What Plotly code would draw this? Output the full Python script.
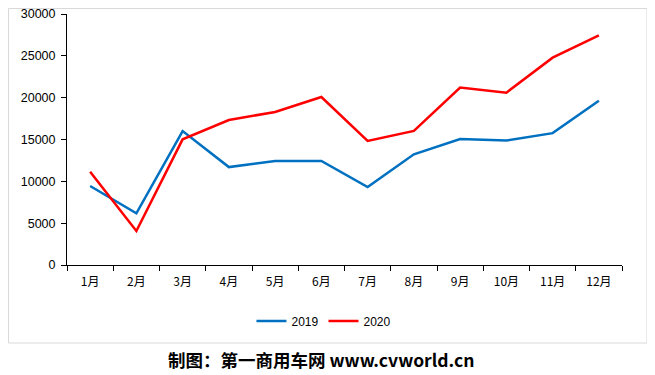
import plotly.graph_objects as go

months = ["1月", "2月", "3月", "4月", "5月", "6月", "7月", "8月", "9月", "10月", "11月", "12月"]
sales_2019 = [9440, 6180, 16000, 11700, 12430, 12430, 9320, 13230, 15060, 14880, 15760, 19640]
sales_2020 = [11150, 4060, 15020, 17330, 18290, 20080, 14820, 16020, 21200, 20600, 24780, 27450]
y_ticks = [0, 5000, 10000, 15000, 20000, 25000, 30000]

font_main = "Liberation Sans, Noto Sans CJK SC, sans-serif"

fig = go.Figure()
fig.add_trace(go.Scatter(x=months, y=sales_2019, mode="lines", name="2019",
                         line=dict(color="#0070C0", width=2.5)))
fig.add_trace(go.Scatter(x=months, y=sales_2020, mode="lines", name="2020",
                         line=dict(color="#FF0000", width=2.5)))

# The page body has an 8px default margin, so the figure is 8px smaller and shifted.
fig.update_layout(
    width=647, height=367,
    margin=dict(l=59, r=33, t=6, b=110, autoexpand=False),
    paper_bgcolor="white", plot_bgcolor="white",
    font=dict(family=font_main, size=12, color="black"),
    showlegend=True,
    legend=dict(orientation="h", x=0.463, xanchor="center", y=-0.223, yanchor="middle",
                font=dict(size=12, family=font_main), itemwidth=30, tracegroupgap=0),
    xaxis=dict(type="category", range=[-0.5, 11.5], showline=True, linecolor="black", linewidth=1,
               ticks="outside", tickson="boundaries", ticklen=5, tickcolor="black",
               showgrid=False, zeroline=False, automargin=False, ticklabelstandoff=6,
               tickfont=dict(size=12, family="Noto Sans CJK SC, sans-serif")),
    yaxis=dict(range=[0, 30000], tickvals=y_ticks, showline=True, linecolor="black",
               linewidth=1, ticks="outside", ticklen=5, tickcolor="black",
               showgrid=False, zeroline=False, tickformat="d", automargin=False,
               ticklabelstandoff=3, ticklabeloverflow="allow",
               tickfont=dict(size=12.5, family=font_main)),
    shapes=[dict(type="rect", xref="paper", yref="paper",
                 x0=-0.1054, x1=1.045, y0=-0.3108, y1=1.0219,
                 line=dict(color="#d9d9d9", width=1), fillcolor="rgba(0,0,0,0)", layer="below")],
    annotations=[dict(text="<b>制图：第一商用车网 www.cvworld.cn</b>", xref="paper", yref="paper",
                      x=0.458, y=-0.378, xanchor="center", yanchor="middle", showarrow=False,
                      font=dict(size=17.5, family="Noto Sans CJK SC, sans-serif", color="black"))],
)

fig.write_html("out.html")
